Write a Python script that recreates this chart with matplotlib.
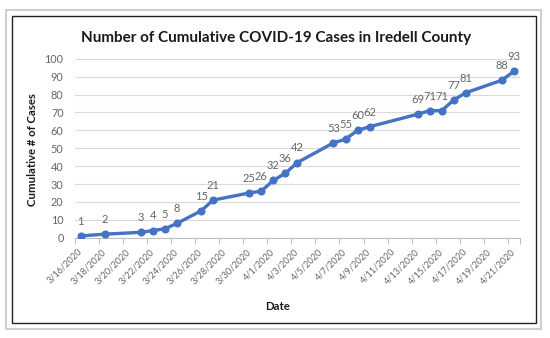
import matplotlib
matplotlib.use("Agg")
import matplotlib.pyplot as plt
from matplotlib.patches import Rectangle
import pandas as pd

# cumulative case counts by report date
dates = ["2020-03-16", "2020-03-18", "2020-03-21", "2020-03-22", "2020-03-23",
         "2020-03-24", "2020-03-26", "2020-03-27", "2020-03-30", "2020-03-31",
         "2020-04-01", "2020-04-02", "2020-04-03", "2020-04-06", "2020-04-07",
         "2020-04-08", "2020-04-09", "2020-04-13", "2020-04-14", "2020-04-15",
         "2020-04-16", "2020-04-17", "2020-04-20", "2020-04-21"]
cases = [1, 2, 3, 4, 5, 8, 15, 21, 25, 26, 32, 36, 42, 53, 55, 60, 62,
         69, 71, 71, 77, 81, 88, 93]

title = "Number of Cumulative COVID-19 Cases in Iredell County"
ylabel = "Cumulative # of Cases"
xlabel = "Date"

plt.rcParams['font.family'] = ['Lato', 'DejaVu Sans']

x = pd.to_datetime(dates)
tick_days = pd.date_range("2020-03-16", "2020-04-21", freq="2D")
tick_labels = [f"{d.month}/{d.day}/{d.year}" for d in tick_days]

fig = plt.figure(figsize=(5.5, 3.38), dpi=100)
ax = fig.add_axes([0.1358, 0.2967, 0.8097, 0.5296])

blue = "#4472C4"
ax.plot(x, cases, color=blue, lw=2.4, marker="o", ms=4.8, zorder=3)
for xi, yi in zip(x, cases):
    ax.annotate(str(yi), (xi, yi), xytext=(0, 10.5), textcoords="offset points",
                ha="center", va="center", fontsize=8, color="#666666")

half = pd.Timedelta(hours=12)
ax.set_xlim(tick_days[0] - half, tick_days[-1] + half)
ax.set_ylim(0, 100)
ax.set_yticks(range(0, 101, 10))
ax.grid(axis="y", color="#d9d9d9", lw=0.8)
ax.set_axisbelow(True)

ax.set_xticks(tick_days)
ax.set_xticklabels(tick_labels, rotation=45, ha="right", va="center",
                   rotation_mode="anchor", fontsize=6.6, color="#666666")
ax.set_xticks([d - half for d in tick_days] + [tick_days[-1] + half], minor=True)
ax.tick_params(axis="x", which="major", length=0, pad=9)
ax.tick_params(axis="x", which="minor", length=4, color="#bfbfbf", width=0.8)
ax.tick_params(axis="y", length=0, labelsize=7.8, labelcolor="#666666", pad=8)

for s in ["top", "right", "left"]:
    ax.spines[s].set_visible(False)
ax.spines["bottom"].set_color("#bfbfbf")
ax.spines["bottom"].set_linewidth(0.8)

fig.text(276 / 550, 1 - 38 / 338, title, ha="center", va="center",
         fontsize=11, fontweight="bold", color="#1a1a1a")
fig.text(32 / 550, 1 - 150 / 338, ylabel, ha="center", va="center",
         rotation=90, fontsize=8.2, fontweight="bold", color="#1a1a1a")
fig.text(278 / 550, 1 - 306 / 338, xlabel, ha="center", va="center",
         fontsize=8.2, fontweight="bold", color="#1a1a1a")

# double frame around the chart
fig.patches.append(Rectangle((6 / 550, 1 - 329 / 338), 535 / 550, 319 / 338,
                             transform=fig.transFigure, fill=False,
                             ec="#cfcfcf", lw=1.5))
fig.patches.append(Rectangle((12 / 550, 1 - 323 / 338), 524 / 550, 307 / 338,
                             transform=fig.transFigure, fill=False,
                             ec="#222222", lw=1.0))

fig.savefig("out.png", dpi=100)
